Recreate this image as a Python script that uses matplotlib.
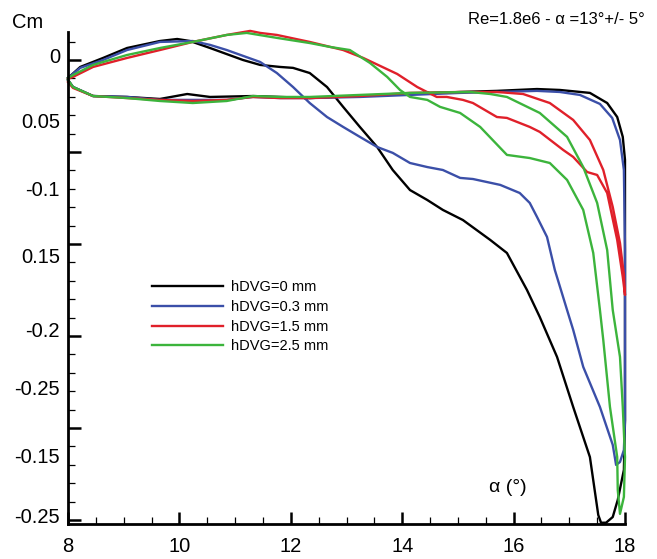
import matplotlib
matplotlib.use('Agg')
import matplotlib.pyplot as plt
from matplotlib.ticker import MultipleLocator
import matplotlib.transforms as mtransforms

plt.rcParams['font.family'] = ['Liberation Sans', 'DejaVu Sans']

# ---------------- data (alpha in deg, Cm) ----------------
alpha_0 = [8.00, 8.09, 8.45, 9.06, 9.65, 10.14, 10.55, 11.32, 11.81, 12.34, 13.24, 14.14, 15.04, 15.70,
           16.42, 16.83, 17.37, 17.68, 17.86, 17.96, 18.00, 18.00, 18.00, 18.00, 17.98, 17.87, 17.78,
           17.66, 17.57,
           17.52, 17.37, 17.07, 16.78, 16.47, 16.24, 15.88, 15.58, 15.09, 14.73, 14.45, 14.14, 13.83,
           13.55, 13.24, 12.94, 12.65, 12.34, 12.04, 11.81, 11.45, 11.14, 10.55, 10.19, 9.96, 9.65,
           9.06, 8.63, 8.22, 8.00]
cm_0 = [-0.0109, -0.0147, -0.0196, -0.0201, -0.0212, -0.0185, -0.0201, -0.0196, -0.0201, -0.0207,
        -0.0196, -0.0185, -0.0174, -0.0168, -0.0158, -0.0163, -0.0179, -0.0234, -0.0310, -0.0418,
        -0.0543, -0.1033, -0.1576, -0.1957, -0.2228, -0.2391, -0.2484, -0.2515, -0.2515,
        -0.2473, -0.2158, -0.1886, -0.1614, -0.1397, -0.1250, -0.1049, -0.0978, -0.0870, -0.0815,
        -0.0761, -0.0707, -0.0598, -0.0473, -0.0364, -0.0255, -0.0147, -0.0071, -0.0043, -0.0038,
        -0.0027, 0.0000, 0.0065, 0.0103, 0.0114, 0.0103, 0.0065, 0.0011, -0.0038, -0.0098]

alpha_03 = [8.00, 8.09, 8.45, 9.06, 9.65, 10.24, 10.85, 11.32, 11.81, 12.34, 13.24, 14.14, 15.04, 15.70,
            16.42, 16.83, 17.19, 17.55, 17.77, 17.91, 17.98, 18.00, 18.00, 18.00, 17.98, 17.91, 17.84,
            17.78, 17.55, 17.25, 17.07, 16.96, 16.74, 16.60, 16.42, 16.29, 16.11, 15.76, 15.27, 15.04,
            14.73, 14.45, 14.14, 13.83, 13.55, 13.24, 12.94, 12.65, 12.34, 12.04, 11.75, 11.45, 10.85,
            10.55, 10.24, 9.65, 9.06, 8.63, 8.22, 8.00]
cm_03 = [-0.0109, -0.0147, -0.0196, -0.0201, -0.0217, -0.0217, -0.0217, -0.0201, -0.0207, -0.0207,
         -0.0201, -0.0190, -0.0179, -0.0174, -0.0168, -0.0174, -0.0190, -0.0239, -0.0315, -0.0435,
         -0.0598, -0.1033, -0.1576, -0.1957, -0.2120, -0.2185, -0.2201,
         -0.2092, -0.1886, -0.1668, -0.1467, -0.1359, -0.1141, -0.0962, -0.0853, -0.0777, -0.0723,
         -0.0679, -0.0647, -0.0641, -0.0598, -0.0582, -0.0560, -0.0505, -0.0473, -0.0418, -0.0364,
         -0.0310, -0.0234, -0.0147, -0.0071, -0.0011, 0.0054, 0.0082, 0.0103, 0.0098, 0.0054, 0.0000,
         -0.0043, -0.0098]

alpha_15 = [8.00, 8.09, 8.45, 9.06, 9.65, 10.24, 10.85, 11.32, 11.81, 12.34, 13.24, 14.14, 15.04, 15.70,
            16.17, 16.65, 17.07, 17.37, 17.61, 17.78, 17.91, 17.98, 18.00,
            17.96, 17.86, 17.68, 17.50, 17.32, 17.07, 16.89, 16.47, 16.29, 15.88, 15.70, 15.27, 15.09,
            14.80, 14.62, 14.27, 13.91, 13.30, 12.94, 12.34, 11.75, 11.45, 11.27, 10.85, 10.24, 9.65,
            9.06, 8.45, 8.09, 8.00]
cm_15 = [-0.0120, -0.0152, -0.0196, -0.0207, -0.0217, -0.0223, -0.0217, -0.0201, -0.0207, -0.0207,
         -0.0196, -0.0179, -0.0174, -0.0174, -0.0185, -0.0234, -0.0326, -0.0435, -0.0598, -0.0799,
         -0.0995, -0.1168, -0.1277,
         -0.1179, -0.0978, -0.0723, -0.0625, -0.0609, -0.0527, -0.0489, -0.0391, -0.0364, -0.0315,
         -0.0310, -0.0234, -0.0217, -0.0201, -0.0201, -0.0147, -0.0076, 0.0011, 0.0054, 0.0098,
         0.0136, 0.0147, 0.0158, 0.0136, 0.0098, 0.0054, 0.0011, -0.0038, -0.0092, -0.0103]

alpha_25 = [8.00, 8.09, 8.45, 9.06, 9.65, 10.24, 10.85, 11.32, 11.81, 12.34, 13.24, 14.14, 15.22, 15.58,
            15.88, 16.47, 16.96, 17.25, 17.50, 17.68, 17.78, 17.91, 17.96, 18.00, 17.98, 17.91,
            17.87, 17.86, 17.73, 17.61, 17.55, 17.43, 17.25, 16.96, 16.65, 16.29, 15.88, 15.40, 15.04,
            14.68, 14.45, 14.14, 13.96, 13.73, 13.42, 13.06, 12.70, 12.34, 11.75, 11.21, 10.85, 10.24,
            9.65, 9.06, 8.45, 8.09, 8.00]
cm_25 = [-0.0109, -0.0147, -0.0196, -0.0207, -0.0223, -0.0234, -0.0223, -0.0196, -0.0201, -0.0201,
         -0.0190, -0.0179, -0.0174, -0.0185, -0.0201, -0.0288, -0.0418, -0.0582, -0.0777, -0.1033,
         -0.1359, -0.1614, -0.1886, -0.2158, -0.2375, -0.2467,
         -0.2337, -0.2158, -0.1886, -0.1522, -0.1359, -0.1049, -0.0815, -0.0652, -0.0560, -0.0533,
         -0.0516, -0.0364, -0.0288, -0.0255, -0.0217, -0.0201, -0.0163, -0.0092, -0.0016, 0.0054,
         0.0071, 0.0092, 0.0120, 0.0147, 0.0136, 0.0098, 0.0065, 0.0027, -0.0027, -0.0082, -0.0098]

series_labels = ['hDVG=0 mm', 'hDVG=0.3 mm', 'hDVG=1.5 mm', 'hDVG=2.5 mm']
series_colors = ['#000000', '#3b4fa8', '#e0202a', '#3cb43c']

ytick_texts = ['0', '0.05', '-0.1', '0.15', '-0.2', '-0.25', '-0.15', '-0.25']
ytick_text_pos = [0.0016, -0.0342, -0.0707, -0.1071, -0.1478, -0.1793, -0.2158, -0.2484]
xticks = [8, 10, 12, 14, 16, 18]

# ---------------- figure ----------------
W, H = 657, 559
fig = plt.figure(figsize=(W / 100, H / 100), dpi=100)
ax = fig.add_axes([68 / W, 1 - 524 / H, (625 - 68) / W, (524 - 32) / H])

data = [(alpha_0, cm_0), (alpha_03, cm_03), (alpha_15, cm_15), (alpha_25, cm_25)]
for (a, c), lab, col in zip(data, series_labels, series_colors):
    ax.plot(a, c, color=col, lw=1.7, label=lab, clip_on=False, solid_joinstyle='round')

ax.set_xlim(8, 18)
ax.set_ylim(-0.2522, 0.0152)
for s in ['top', 'right']:
    ax.spines[s].set_visible(False)
for s in ['left', 'bottom']:
    ax.spines[s].set_linewidth(2.0)

ax.set_xticks(xticks)
ax.xaxis.set_minor_locator(MultipleLocator(0.5))
ax.yaxis.set_major_locator(MultipleLocator(0.05))
ax.yaxis.set_minor_locator(MultipleLocator(0.01))
ax.tick_params(which='major', direction='in', length=9, width=1.8, labelsize=14.5, pad=9)
ax.tick_params(which='minor', direction='in', length=5, width=0.9)
ax.tick_params(axis='y', which='both', labelleft=False)

trans = mtransforms.blended_transform_factory(ax.transAxes, ax.transData)
for t, v in zip(ytick_texts, ytick_text_pos):
    ax.text(-0.0144, v, t, transform=trans, ha='right', va='center', fontsize=14.5)

fig.text(28 / W, 1 - 22 / H, 'Cm', ha='center', va='center', fontsize=14.5)
fig.text(645 / W, 1 - 20 / H, 'Re=1.8e6 - α =13°+/- 5°', ha='right', va='center', fontsize=12)
fig.text(508 / W, 1 - 488 / H, 'α (°)', ha='center', va='center', fontsize=14)

ax.legend(loc='upper left', bbox_to_anchor=(152 / W, 1 - 280 / H), bbox_transform=fig.transFigure,
          frameon=False, fontsize=10.5, handlelength=4.85, handletextpad=0.55, labelspacing=0.4,
          borderpad=0, borderaxespad=0)

fig.savefig('out.png', dpi=100)
